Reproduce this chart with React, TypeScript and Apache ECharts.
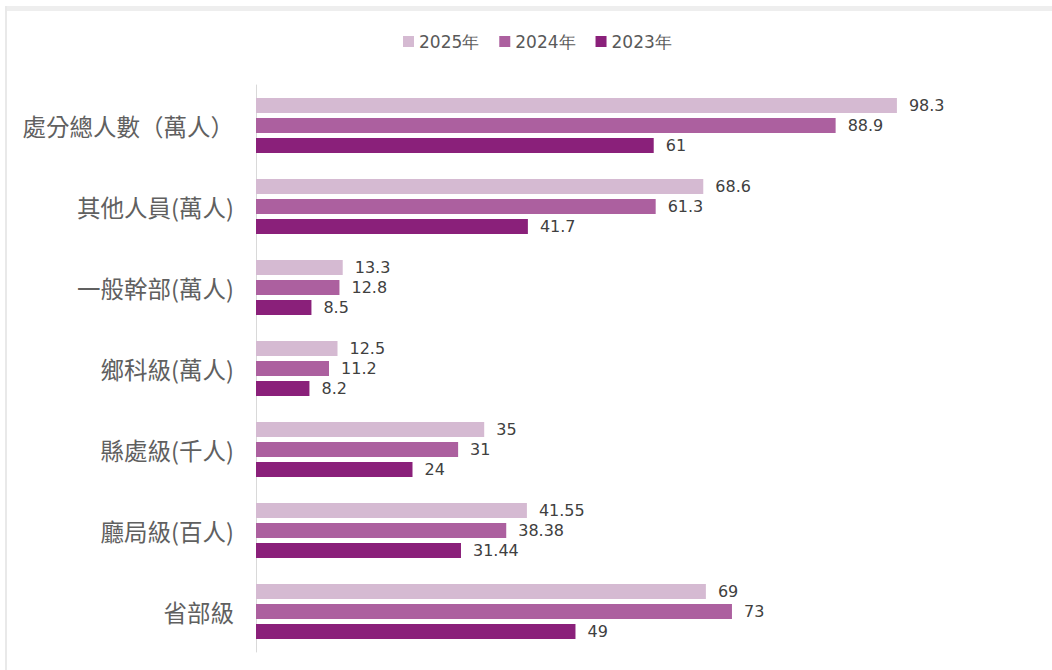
import React, { useEffect, useRef } from 'react';
import * as echarts from 'echarts';

const categories = [
  '處分總人數（萬人）',
  '其他人員(萬人)',
  '一般幹部(萬人)',
  '鄉科級(萬人)',
  '縣處級(千人)',
  '廳局級(百人)',
  '省部級',
];
const seriesNames = ['2025年', '2024年', '2023年'];
const values2025 = [98.3, 68.6, 13.3, 12.5, 35, 41.55, 69];
const values2024 = [88.9, 61.3, 12.8, 11.2, 31, 38.38, 73];
const values2023 = [61, 41.7, 8.5, 8.2, 24, 31.44, 49];
const seriesValues = [values2025, values2024, values2023];
const colors = ['#d5bad2', '#ac609f', '#8a207a'];

export default function App() {
  const ref = useRef<HTMLDivElement>(null);
  useEffect(() => {
    if (!ref.current) return;
    const chart = echarts.init(ref.current, null, { renderer: 'svg' });
    chart.setOption({
      animation: false,
      backgroundColor: '#ffffff',
      color: colors,
      graphic: [
        { type: 'rect', shape: { x: 5, y: 6, width: 1047, height: 5 }, style: { fill: '#eeeeee' }, silent: true },
        { type: 'rect', shape: { x: 5, y: 6, width: 2, height: 664 }, style: { fill: '#e9e9e9' }, silent: true },
      ],
      legend: {
        data: seriesNames,
        left: 403,
        top: 33,
        padding: 0,
        icon: 'rect',
        itemWidth: 11,
        itemHeight: 11,
        itemGap: 20,
        textStyle: { fontSize: 17, color: '#595959', fontFamily: 'DejaVu Sans' },
      },
      grid: { left: 256, right: 144, top: 85, bottom: 18, containLabel: false },
      xAxis: {
        type: 'value',
        min: 0,
        max: 100,
        show: false,
        splitLine: { show: false },
      },
      yAxis: {
        type: 'category',
        data: categories,
        inverse: true,
        axisLine: { show: true, lineStyle: { color: '#d9d9d9', width: 1 } },
        axisTick: { show: false },
        axisLabel: {
          margin: 22,
          fontSize: 23.5,
          color: '#606060',
          fontFamily: 'Noto Sans CJK TC',
        },
      },
      series: seriesNames.map((name, i) => ({
        name,
        type: 'bar',
        data: seriesValues[i],
        barWidth: 15,
        barGap: '33%',
        itemStyle: { color: colors[i] },
        label: {
          show: true,
          position: 'right',
          distance: 12,
          fontSize: 16,
          color: '#404040',
          fontFamily: 'DejaVu Sans',
        },
      })),
    });
    return () => chart.dispose();
  }, []);
  return (
    <div
      ref={ref}
      style={{ position: 'fixed', left: 0, top: 0, width: 1052, height: 670 }}
    />
  );
}
